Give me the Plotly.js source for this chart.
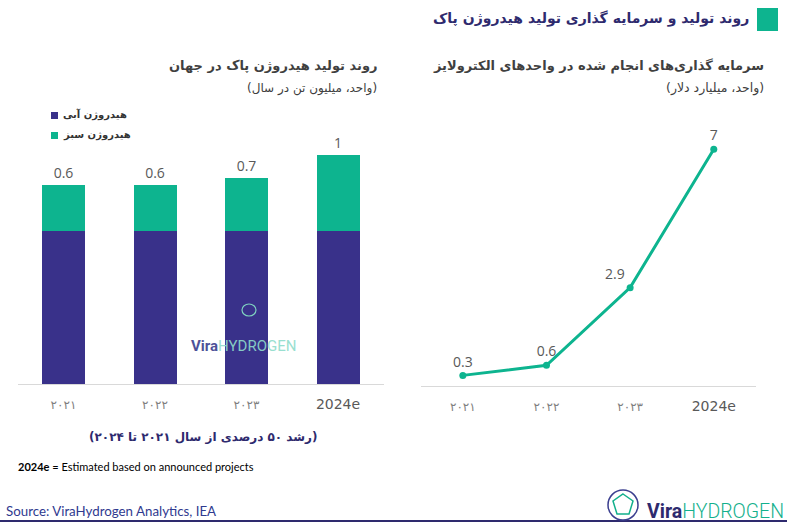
<!DOCTYPE html>
<html>
<head>
<meta charset="utf-8">
<script src="https://cdn.plot.ly/plotly-3.0.1.min.js"></script>
<style>html,body{margin:0;padding:0;background:#fff;}#chart{width:787px;height:524px;}</style>
</head>
<body>
<div id="chart"></div>
<script>
// ---- data ----
const years = ['2021', '2022', '2023', '2024e'];
const yearLabels = ['۲۰۲۱', '۲۰۲۲', '۲۰۲۳', '<span style="font-size:14px;color:#595959">2024e</span>'];
const blueHydrogen = [2.0, 2.0, 2.0, 2.0];      // estimated (unlabelled)
const greenHydrogen = [0.6, 0.6, 0.7, 1.0];     // million tonnes / year
const electrolyzerInvestment = [0.3, 0.6, 2.9, 7]; // billion USD
const lineLabelPos = ['top center', 'top center', 'top left', 'top center'];

const NAVY = '#39318a';
const GREEN = '#0db48f';
const FA = 'DejaVu Sans, sans-serif';
const LAT = 'Open Sans, sans-serif';
const W = 787, H = 524;
const px = x => x / W;
const py = y => 1 - y / H;

const traces = [
  {type: 'bar', x: years, y: blueHydrogen, name: 'blue', marker: {color: NAVY},
   width: 0.47, xaxis: 'x', yaxis: 'y', hoverinfo: 'skip'},
  {type: 'bar', x: years, y: greenHydrogen, name: 'green', marker: {color: GREEN},
   width: 0.47, xaxis: 'x', yaxis: 'y', text: greenHydrogen.map(v => String(v)),
   textposition: 'outside', cliponaxis: false,
   textfont: {family: LAT, size: 14, color: '#595959'}, hoverinfo: 'skip'},
  {type: 'scatter', mode: 'lines+markers+text', x: years, y: electrolyzerInvestment,
   xaxis: 'x2', yaxis: 'y2', line: {color: GREEN, width: 3},
   marker: {color: GREEN, size: 7}, text: electrolyzerInvestment.map(v => String(v)),
   textposition: lineLabelPos, cliponaxis: false,
   textfont: {family: LAT, size: 14, color: '#595959'}, hoverinfo: 'skip'}
];

const axisX = {
  type: 'category', tickvals: years, ticktext: yearLabels, showgrid: false,
  zeroline: false, showline: true, linecolor: '#d9d9d9', linewidth: 1, ticks: '',
  tickfont: {family: FA, size: 12, color: '#7f7f7f'}, ticklabelstandoff: 10,
  range: [-0.5, 3.5], fixedrange: true
};

const annotations = [
  {text: '<b>روند تولید و سرمایه گذاری تولید هیدروژن پاک</b>', x: px(751), y: py(18),
   xanchor: 'right', yanchor: 'middle', font: {family: FA, size: 14, color: '#2e2a6e'}},
  {text: '<b>روند تولید هیدروژن پاک در جهان</b>', x: px(379), y: py(66),
   xanchor: 'right', yanchor: 'middle', font: {family: FA, size: 13, color: '#404040'}},
  {text: '(واحد، میلیون تن در سال)', x: px(379), y: py(88),
   xanchor: 'right', yanchor: 'middle', font: {family: FA, size: 12, color: '#404040'}},
  {text: '<b>سرمایه گذاری‌های انجام شده در واحدهای الکترولایز</b>', x: px(766), y: py(66),
   xanchor: 'right', yanchor: 'middle', font: {family: FA, size: 13, color: '#404040'}},
  {text: '(واحد، میلیارد دلار)', x: px(766), y: py(88),
   xanchor: 'right', yanchor: 'middle', font: {family: FA, size: 12.5, color: '#404040'}},
  {text: '<b>هیدروژن آبی</b>', x: px(61), y: py(115),
   xanchor: 'left', yanchor: 'middle', font: {family: FA, size: 10, color: '#333333'}},
  {text: '<b>هیدروژن سبز</b>', x: px(61), y: py(135),
   xanchor: 'left', yanchor: 'middle', font: {family: FA, size: 10, color: '#333333'}},
  {text: '<b>(رشد ۵۰ درصدی از سال ۲۰۲۱ تا ۲۰۲۴)</b>', x: px(203), y: py(437),
   xanchor: 'center', yanchor: 'middle', font: {family: FA, size: 12, color: '#2e2a6e'}},
  {text: '<b>2024e</b> = Estimated based on announced projects', x: px(16), y: py(466),
   xanchor: 'left', yanchor: 'middle', font: {family: 'Lato, sans-serif', size: 11, color: '#000000'}},
  {text: 'Source: ViraHydrogen Analytics, IEA', x: px(4), y: py(511),
   xanchor: 'left', yanchor: 'middle', font: {family: 'Lato, sans-serif', size: 13.3, color: '#2f3a8f'}},
  {text: '<b><span style="color:#2e2a6e">Vira</span></b><span style="color:#13b08c;font-weight:300">HYDROGEN</span>',
   x: px(786), y: py(511), xanchor: 'right', yanchor: 'middle',
   font: {family: 'Roboto, sans-serif', size: 19.5, color: '#13b08c'}},
  {text: '<b><span style="color:#3b3f8f">Vira</span></b><span style="color:#8fdccb">HYDROGEN</span>',
   x: px(243), y: py(346), xanchor: 'center', yanchor: 'middle', opacity: 0.9,
   font: {family: 'Roboto, sans-serif', size: 15, color: '#8fdccb'}}
];
annotations.forEach(a => { a.xref = 'paper'; a.yref = 'paper'; a.showarrow = false; });

const shapes = [
  {type: 'rect', xref: 'paper', yref: 'paper', x0: px(757), x1: px(778), y0: py(8), y1: py(31),
   fillcolor: GREEN, line: {width: 0}},
  {type: 'rect', xref: 'paper', yref: 'paper', x0: px(51), x1: px(58), y0: py(112), y1: py(119),
   fillcolor: NAVY, line: {width: 0}},
  {type: 'rect', xref: 'paper', yref: 'paper', x0: px(51), x1: px(58), y0: py(132), y1: py(139),
   fillcolor: GREEN, line: {width: 0}},
  {type: 'line', xref: 'paper', yref: 'paper', x0: 0, x1: 1, y0: py(521), y1: py(521),
   line: {color: '#2e2a6e', width: 2}},
  // logo icon
  {type: 'circle', xref: 'paper', yref: 'paper', x0: px(608), x1: px(638), y0: py(490), y1: py(520),
   line: {color: '#3b3f8f', width: 1.5}},
  {type: 'path', xref: 'paper', yref: 'paper',
   path: 'M' + px(623) + ',' + py(494) + ' L' + px(633) + ',' + py(501) + ' L' + px(629) + ',' + py(514) +
         ' L' + px(617) + ',' + py(514) + ' L' + px(613) + ',' + py(501) + ' Z',
   line: {color: '#13b08c', width: 1.5}},
  // watermark capsule
  {type: 'circle', xref: 'paper', yref: 'paper', x0: px(242), x1: px(256), y0: py(304), y1: py(316),
   line: {color: '#7fd3c0', width: 1.2}}
];

const layout = {
  width: W, height: H, margin: {l: 0, r: 0, t: 0, b: 0},
  paper_bgcolor: '#ffffff', plot_bgcolor: 'rgba(0,0,0,0)',
  showlegend: false, barmode: 'stack', bargap: 0.53,
  xaxis: Object.assign({}, axisX, {domain: [px(17.75), px(383.75)], anchor: 'y'}),
  yaxis: {domain: [py(384), py(124)], range: [0, 3.4], visible: false, fixedrange: true, anchor: 'x'},
  xaxis2: Object.assign({}, axisX, {domain: [px(421), px(755.6)], anchor: 'y2'}),
  yaxis2: {domain: [py(385.5), py(115.5)], range: [0, 8], visible: false, fixedrange: true, anchor: 'x2'},
  annotations: annotations, shapes: shapes
};

Plotly.newPlot('chart', traces, layout, {displayModeBar: false, staticPlot: true});
</script>
</body>
</html>
